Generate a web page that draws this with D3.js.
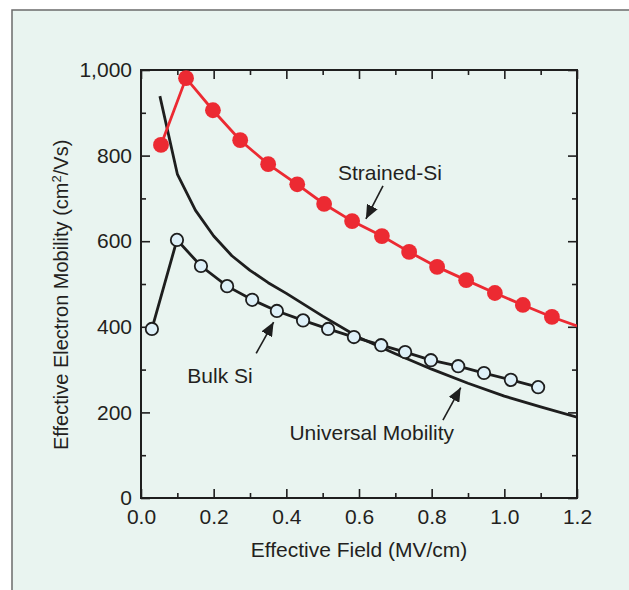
<!DOCTYPE html>
<html>
<head>
<meta charset="utf-8">
<script src="https://cdn.jsdelivr.net/npm/d3@7"></script>
<style>
  html, body { margin: 0; padding: 0; background: #ffffff; }
  svg { display: block; }
  text { font-family: "Liberation Sans", Arial, Helvetica, sans-serif; fill: #231f20; }
</style>
</head>
<body>
<svg id="chart" width="629" height="590"></svg>
<script>
// Strained-Si electron mobility (filled red markers)
const strainedField    = [0.055, 0.124, 0.198, 0.273, 0.350, 0.430, 0.504, 0.581, 0.663, 0.738, 0.815, 0.895, 0.974, 1.051, 1.131];
const strainedMobility = [825, 981, 906, 836, 780, 733, 687, 647, 612, 575, 540, 509, 479, 451, 423];
// the strained-Si trend line runs on to the right-hand axis
const strainedTailField    = [1.2];
const strainedTailMobility = [402];

// Bulk Si electron mobility (open markers)
const bulkField    = [0.030, 0.099, 0.165, 0.237, 0.306, 0.374, 0.446, 0.515, 0.586, 0.661, 0.727, 0.798, 0.873, 0.944, 1.018, 1.093];
const bulkMobility = [395, 603, 542, 495, 463, 437, 415, 395, 376, 357, 341, 322, 308, 292, 276, 259];

// Universal mobility curve
const universalField    = [0.052, 0.10, 0.15, 0.20, 0.25, 0.30, 0.35, 0.40, 0.50, 0.60, 0.70, 0.80, 0.90, 1.00, 1.10, 1.20];
const universalMobility = [939, 757, 672, 612, 566, 532, 503, 478, 425, 375, 337, 301, 268, 238, 213, 189];

// Axis ticks
const xMajorTicks = [0.0, 0.2, 0.4, 0.6, 0.8, 1.0, 1.2];
const xMinorTicks = [0.1, 0.3, 0.5, 0.7, 0.9, 1.1];
const xTickLabels = ["0.0", "0.2", "0.4", "0.6", "0.8", "1.0", "1.2"];
const yMajorTicks = [0, 200, 400, 600, 800, 1000];
const yMinorTicks = [100, 300, 500, 700, 900];
const yTickLabels = ["0", "200", "400", "600", "800", "1,000"];

// Curve labels with their pointer arrows, in data units
const labelNames  = ["Strained-Si", "Bulk Si", "Universal Mobility"];
const labelAt     = [[0.685, 743], [0.2175, 269], [0.635, 136]];
const arrowFrom   = [[0.666, 729], [0.317, 338], [0.831, 182]];
const arrowTo     = [[0.619, 652], [0.365, 411], [0.880, 258]];

const W = 629, H = 590;
const svg = d3.select("#chart");

const bg = "#e9f4f0";
const red = "#ec2a32";
const ink = "#1e1e1e";

// panel background with its frame
svg.append("rect").attr("x", 12).attr("y", 10).attr("width", W).attr("height", H)
  .attr("fill", bg).attr("stroke", "#6b6b6b").attr("stroke-width", 1.5);

const x = d3.scaleLinear().domain([0, 1.2]).range([141, 577]);
const y = d3.scaleLinear().domain([0, 1000]).range([498, 70]);

const major = 9, minor = 5;
const fs = 21;

// axes: all four sides, ticks pointing inward
function axisWithMinor(axisFn, scale, majors, minors, labels) {
  return axisFn(scale).tickValues(majors.concat(minors).sort((a, b) => a - b))
    .tickSizeOuter(0)
    .tickFormat(d => { const i = majors.indexOf(d); return i >= 0 && labels ? labels[i] : ""; });
}

function styleAxis(g, labelsShown) {
  g.select(".domain").remove();
  g.selectAll(".tick line")
    .attr("stroke", ink).attr("stroke-width", 1.6);
  g.selectAll(".tick text")
    .attr("font-size", fs).style("font-family", "Liberation Sans, Arial, sans-serif").attr("fill", ink);
  if (!labelsShown) g.selectAll(".tick text").remove();
}

// bottom
const gB = svg.append("g").attr("transform", `translate(0,${y(0)})`)
  .call(axisWithMinor(d3.axisBottom, x, xMajorTicks, xMinorTicks, xTickLabels).tickSize(0));
styleAxis(gB, true);
gB.selectAll(".tick line").attr("y2", d => -(xMajorTicks.includes(d) ? major : minor));
gB.selectAll(".tick text").attr("dy", "0.71em").attr("y", 11);

// top
const gT = svg.append("g").attr("transform", `translate(0,${y(1000)})`)
  .call(axisWithMinor(d3.axisTop, x, xMajorTicks, xMinorTicks, null).tickSize(0));
styleAxis(gT, false);
gT.selectAll(".tick line").attr("y2", d => (xMajorTicks.includes(d) ? major : minor));

// left
const gL = svg.append("g").attr("transform", `translate(${x(0)},0)`)
  .call(axisWithMinor(d3.axisLeft, y, yMajorTicks, yMinorTicks, yTickLabels).tickSize(0).tickPadding(9));
styleAxis(gL, true);
gL.selectAll(".tick line").attr("x2", d => (yMajorTicks.includes(d) ? major : minor));

// right
const gR = svg.append("g").attr("transform", `translate(${x(1.2)},0)`)
  .call(axisWithMinor(d3.axisRight, y, yMajorTicks, yMinorTicks, null).tickSize(0));
styleAxis(gR, false);
gR.selectAll(".tick line").attr("x2", d => -(yMajorTicks.includes(d) ? major : minor));

// plot frame
svg.append("rect")
  .attr("x", x(0)).attr("y", y(1000))
  .attr("width", x(1.2) - x(0)).attr("height", y(0) - y(1000))
  .attr("fill", "none").attr("stroke", ink).attr("stroke-width", 2);

// clip for the series
svg.append("clipPath").attr("id", "plotClip").append("rect")
  .attr("x", x(0)).attr("y", y(1000))
  .attr("width", x(1.2) - x(0)).attr("height", y(0) - y(1000));

const plot = svg.append("g").attr("clip-path", "url(#plotClip)");
const line = d3.line().x(d => x(d[0])).y(d => y(d[1]));

const universal = universalField.map((f, i) => [f, universalMobility[i]]);
const bulk = bulkField.map((f, i) => [f, bulkMobility[i]]);
const strained = strainedField.map((f, i) => [f, strainedMobility[i]]);
const strainedLine = strained.concat(strainedTailField.map((f, i) => [f, strainedTailMobility[i]]));

plot.append("path").datum(universal).attr("d", line)
  .attr("fill", "none").attr("stroke", ink).attr("stroke-width", 2.8).attr("stroke-linejoin", "round");

plot.append("path").datum(bulk).attr("d", line)
  .attr("fill", "none").attr("stroke", ink).attr("stroke-width", 2.8);
plot.selectAll("circle.bulk").data(bulk).join("circle").attr("class", "bulk")
  .attr("cx", d => x(d[0])).attr("cy", d => y(d[1])).attr("r", 6.2)
  .attr("fill", "#def0f8").attr("stroke", ink).attr("stroke-width", 1.8);

plot.append("path").datum(strainedLine).attr("d", line)
  .attr("fill", "none").attr("stroke", red).attr("stroke-width", 2.8);
plot.selectAll("circle.strained").data(strained).join("circle").attr("class", "strained")
  .attr("cx", d => x(d[0])).attr("cy", d => y(d[1])).attr("r", 7.9)
  .attr("fill", red);

// pointer arrows and labels
svg.append("defs").append("marker")
  .attr("id", "head").attr("markerUnits", "userSpaceOnUse")
  .attr("viewBox", "0 -6 14 12").attr("refX", 14).attr("refY", 0)
  .attr("markerWidth", 14).attr("markerHeight", 12).attr("orient", "auto")
  .append("path").attr("d", "M0,-6L14,0L0,6Z").attr("fill", ink);

labelNames.forEach((name, i) => {
  svg.append("line")
    .attr("x1", x(arrowFrom[i][0])).attr("y1", y(arrowFrom[i][1]))
    .attr("x2", x(arrowTo[i][0])).attr("y2", y(arrowTo[i][1]))
    .attr("stroke", ink).attr("stroke-width", 1.6).attr("marker-end", "url(#head)");
  svg.append("text")
    .attr("x", x(labelAt[i][0])).attr("y", y(labelAt[i][1]))
    .attr("text-anchor", "middle").attr("font-size", fs)
    .text(name);
});

// axis titles
svg.append("text")
  .attr("x", (x(0) + x(1.2)) / 2).attr("y", 557)
  .attr("text-anchor", "middle").attr("font-size", fs)
  .text("Effective Field (MV/cm)");

const yt = svg.append("text")
  .attr("transform", "translate(68,450) rotate(-90)")
  .attr("text-anchor", "start").attr("font-size", 20);
yt.append("tspan").text("Effective Electron Mobility (cm");
yt.append("tspan").attr("dy", -7).attr("font-size", 13).text("2");
yt.append("tspan").attr("dy", 7).text("/Vs)");
</script>
</body>
</html>
